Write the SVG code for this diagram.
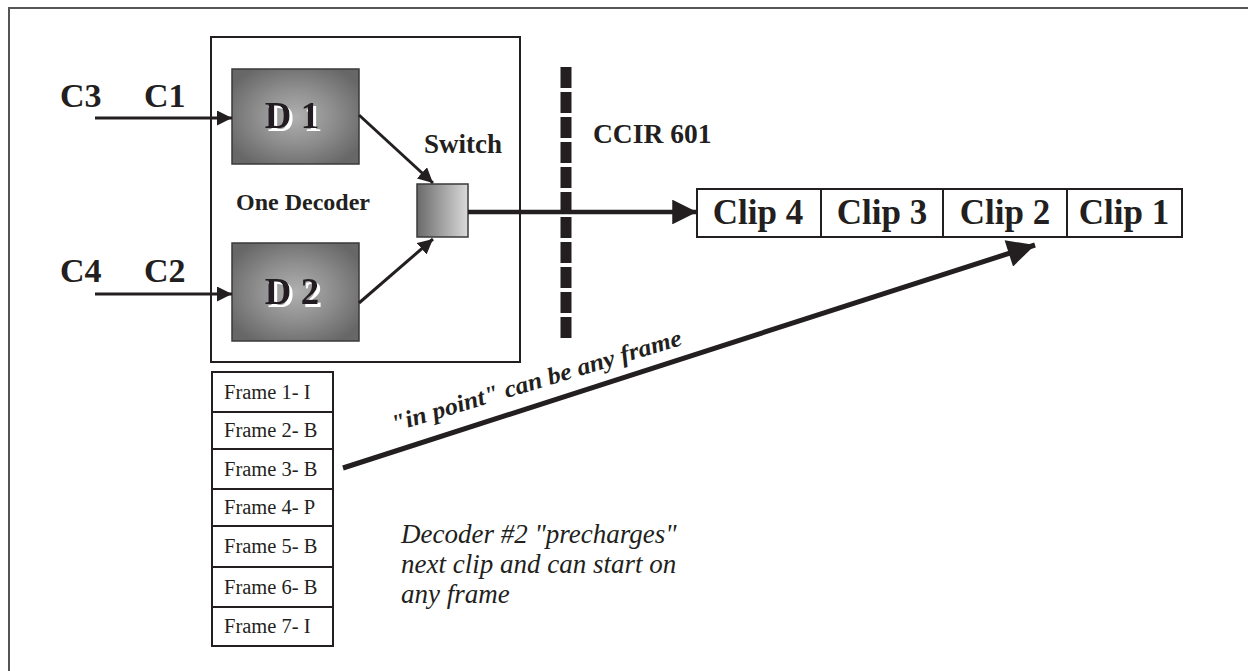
<svg xmlns="http://www.w3.org/2000/svg" width="1248" height="671" viewBox="0 0 1248 671">
<defs>
<radialGradient id="dg" cx="50%" cy="50%" r="60%">
<stop offset="0" stop-color="#b0b0b0"/>
<stop offset="0.5" stop-color="#8e8e8e"/>
<stop offset="1" stop-color="#676767"/>
</radialGradient>
<linearGradient id="sg" x1="0" y1="0" x2="1" y2="0">
<stop offset="0" stop-color="#6a6a6a"/>
<stop offset="1" stop-color="#dadada"/>
</linearGradient>
<filter id="ws" x="-10%" y="-10%" width="130%" height="140%">
<feFlood flood-color="#ffffff" result="w"/>
<feComposite in="w" in2="SourceAlpha" operator="in" result="wa"/>
<feOffset in="wa" dx="2.5" dy="3" result="wo"/>
<feMerge><feMergeNode in="wo"/><feMergeNode in="SourceGraphic"/></feMerge>
</filter>
<marker id="ah" viewBox="0 0 10 10" refX="10" refY="5" markerWidth="5" markerHeight="5" markerUnits="strokeWidth" orient="auto">
<path d="M0,0 L10,5 L0,10 z" fill="#231f20"/>
</marker>
<marker id="ah2" viewBox="0 0 10 10" refX="10" refY="5" markerWidth="6" markerHeight="5.5" markerUnits="strokeWidth" orient="auto">
<path d="M0,0 L10,5 L0,10 z" fill="#231f20"/>
</marker>
</defs>
<style>
.b{font-family:"Liberation Serif",serif;font-weight:bold;fill:#231f20}
.r{font-family:"Liberation Serif",serif;fill:#231f20}
.box{fill:#fff;stroke:#231f20;stroke-width:2}
.dec{fill:url(#dg);stroke:#3a3a3a;stroke-width:1.5}
.ln{stroke:#231f20;fill:none}
</style>
<rect x="9" y="8" width="1260" height="680" fill="#fff" stroke="#555" stroke-width="2"/>

<g id="decoder-unit">
<rect class="box" x="211" y="37" width="309" height="325"/>
<text class="b" x="236" y="210" font-size="24">One  Decoder</text>
</g>

<g id="d1">
<rect class="dec" x="232" y="69" width="127" height="95"/>
<text class="b" x="292" y="128" font-size="37" text-anchor="middle" filter="url(#ws)">D 1</text>
</g>

<g id="d2">
<rect class="dec" x="232" y="243" width="127" height="98"/>
<text class="b" x="292" y="304" font-size="37" text-anchor="middle" filter="url(#ws)">D 2</text>
</g>

<g id="switch">
<rect x="417" y="184" width="51" height="53" fill="url(#sg)" stroke="#3a3a3a" stroke-width="1.5"/>
<text class="b" x="424" y="153" font-size="27">Switch</text>
</g>

<g id="inputs">
<text class="b" x="60" y="107" font-size="34">C3</text>
<text class="b" x="144" y="107" font-size="34">C1</text>
<text class="b" x="60" y="282" font-size="34">C4</text>
<text class="b" x="144" y="282" font-size="34">C2</text>
</g>

<g id="ccir">
<line x1="566" y1="67" x2="566" y2="341" stroke="#231f20" stroke-width="11" stroke-dasharray="21 4"/>
<text class="b" x="593" y="143" font-size="27.5">CCIR 601</text>
</g>

<g id="clips">
<rect class="box" x="697" y="189" width="485" height="48"/>
<line class="ln" x1="821" y1="189" x2="821" y2="237" stroke-width="2"/>
<line class="ln" x1="943" y1="189" x2="943" y2="237" stroke-width="2"/>
<line class="ln" x1="1067" y1="189" x2="1067" y2="237" stroke-width="2"/>
<text class="b" x="758" y="224" font-size="35" text-anchor="middle">Clip 4</text>
<text class="b" x="882" y="224" font-size="35" text-anchor="middle">Clip 3</text>
<text class="b" x="1005" y="224" font-size="35" text-anchor="middle">Clip 2</text>
<text class="b" x="1124" y="224" font-size="35" text-anchor="middle">Clip 1</text>
</g>

<g id="frames">
<rect class="box" x="212" y="372" width="121" height="274"/>
<line class="ln" x1="212" y1="412" x2="333" y2="412" stroke-width="2"/>
<line class="ln" x1="212" y1="449" x2="333" y2="449" stroke-width="2"/>
<line class="ln" x1="212" y1="489" x2="333" y2="489" stroke-width="2"/>
<line class="ln" x1="212" y1="526" x2="333" y2="526" stroke-width="2"/>
<line class="ln" x1="212" y1="567" x2="333" y2="567" stroke-width="2"/>
<line class="ln" x1="212" y1="607" x2="333" y2="607" stroke-width="2"/>
<text class="r" x="224" y="399" font-size="20.5">Frame 1-  I</text>
<text class="r" x="224" y="437" font-size="20.5">Frame 2-  B</text>
<text class="r" x="224" y="476" font-size="20.5">Frame 3-  B</text>
<text class="r" x="224" y="514" font-size="20.5">Frame 4-  P</text>
<text class="r" x="224" y="553" font-size="20.5">Frame 5-  B</text>
<text class="r" x="224" y="594" font-size="20.5">Frame 6-  B</text>
<text class="r" x="224" y="633" font-size="20.5">Frame 7-  I</text>
</g>

<g id="notes">
<text class="b" font-size="24" font-style="italic" transform="translate(394,432) rotate(-16.8)" textLength="302" lengthAdjust="spacingAndGlyphs">"in point" can be any frame</text>
<text class="r" font-size="27" font-style="italic" x="401" y="543">Decoder #2 "precharges"</text>
<text class="r" font-size="27" font-style="italic" x="401" y="573">next clip and can start on</text>
<text class="r" font-size="27" font-style="italic" x="401" y="603">any frame</text>
</g>

<g id="connectors">
<line class="ln" x1="95" y1="118" x2="232" y2="118" stroke-width="3" marker-end="url(#ah)"/>
<line class="ln" x1="95" y1="294" x2="232" y2="294" stroke-width="3" marker-end="url(#ah)"/>
<line class="ln" x1="359" y1="115" x2="433" y2="183" stroke-width="3" marker-end="url(#ah)"/>
<line class="ln" x1="359" y1="303" x2="433" y2="239" stroke-width="3" marker-end="url(#ah)"/>
<line class="ln" x1="468" y1="212" x2="697" y2="212" stroke-width="4.5" marker-end="url(#ah2)"/>
<line class="ln" x1="343" y1="468" x2="1035" y2="245" stroke-width="5" marker-end="url(#ah2)"/>
<line class="ln" x1="520" y1="37" x2="520" y2="362" stroke-width="2"/>
</g>
</svg>
